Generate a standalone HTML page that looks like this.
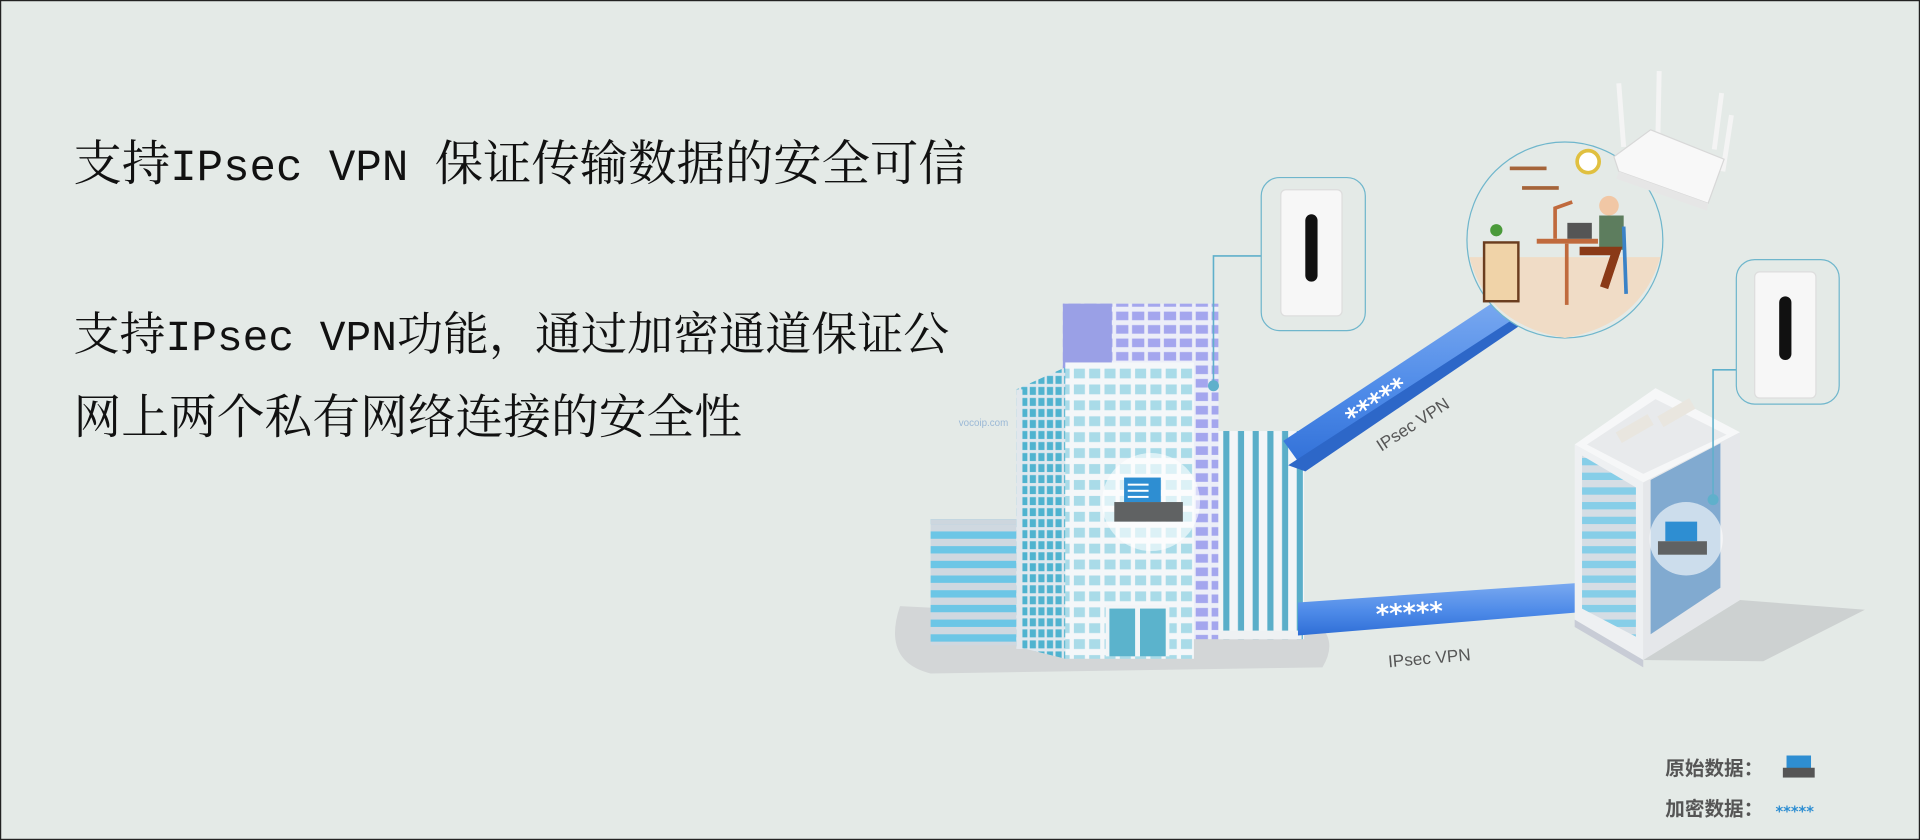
<!DOCTYPE html>
<html><head><meta charset="utf-8"><style>
html,body{margin:0;padding:0;background:#e4eae7;}
svg{display:block}
</style></head><body>
<svg width="1920" height="840" viewBox="0 0 1568 686" xmlns="http://www.w3.org/2000/svg">
<defs>
<pattern id="pw" x="0" y="0" width="12.5" height="13" patternUnits="userSpaceOnUse"><rect width="12.5" height="13" fill="#f4f7f9"/><rect x="2" y="2" width="9" height="8" fill="#a9dbe8"/></pattern>
<pattern id="pl" x="0" y="0" width="7" height="9" patternUnits="userSpaceOnUse"><rect width="7" height="9" fill="#dfe8ee"/><rect x="1" y="1" width="5" height="6.5" fill="#4fb3cf"/></pattern>
<pattern id="pp" x="0" y="0" width="13" height="11" patternUnits="userSpaceOnUse"><rect width="13" height="11" fill="#eceef8"/><rect x="1.5" y="1.5" width="10" height="7" fill="#a4a6ee"/></pattern>
<pattern id="ph" x="0" y="0" width="10" height="12" patternUnits="userSpaceOnUse"><rect width="10" height="12" fill="#cfd8e0"/><rect x="0" y="2" width="10" height="6" fill="#6cc6e6"/></pattern>
<pattern id="pv" x="0" y="0" width="12" height="10" patternUnits="userSpaceOnUse"><rect width="12" height="10" fill="#f3f5f7"/><rect x="3" y="0" width="5" height="10" fill="#5aaec9"/></pattern>
<linearGradient id="tg" x1="0" y1="0" x2="0" y2="1"><stop offset="0" stop-color="#7aa9f0"/><stop offset="0.55" stop-color="#4d8ae8"/><stop offset="1" stop-color="#2f6ed6"/></linearGradient>
</defs>
<rect x="0.5" y="0.5" width="1567" height="685" fill="#e4eae7" stroke="#222" stroke-width="1"/>

<g font-family="'Liberation Mono','Noto Serif CJK SC',serif" fill="#111">
<text x="60" y="147" font-size="36"><tspan font-size="39.5" font-family="'Noto Serif CJK SC',serif">支持</tspan>IPsec VPN <tspan font-size="39.5" font-family="'Noto Serif CJK SC',serif">保证传输数据的安全可信</tspan></text>
<text x="60" y="286" font-size="35"><tspan font-size="37.6" font-family="'Noto Serif CJK SC',serif">支持</tspan>IPsec VPN<tspan font-size="37.6" font-family="'Noto Serif CJK SC',serif">功能，通过加密通道保证公</tspan></text>
<text x="60" y="354" font-size="39" font-family="'Noto Serif CJK SC',serif">网上两个私有网络连接的安全性</text>
</g>

<!-- shadows -->
<path d="M735 495 Q720 540 760 550 L1080 545 Q1095 520 1070 505 L1000 500 L835 500 Z" fill="#d3d6d7"/>
<polygon points="1421,490 1523,498 1440,540 1342,539" fill="#cdd1d1"/>

<!-- left low building -->
<rect x="760" y="424" width="75" height="103" fill="url(#ph)"/>
<rect x="760" y="424" width="75" height="4" fill="#cdd6de"/>
<!-- purple back tower -->
<rect x="868" y="248" width="127" height="90" fill="url(#pp)"/>
<rect x="868" y="248" width="40" height="70" fill="#9aa0e6"/>
<rect x="955" y="300" width="40" height="222" fill="url(#pp)"/>
<!-- main tower left face -->
<polygon points="830,318 870,300 870,538 830,528" fill="url(#pl)"/>
<rect x="830" y="318" width="5" height="212" fill="#e2e7ec"/>
<!-- main tower front -->
<rect x="870" y="300" width="105" height="238" fill="url(#pw)"/>
<rect x="870" y="296" width="105" height="5" fill="#f4f7f9"/>
<!-- door -->
<rect x="903" y="494" width="52" height="42" fill="#f2f5f7"/>
<rect x="906" y="497" width="21" height="39" fill="#5bb3cc"/>
<rect x="931" y="497" width="21" height="39" fill="#5bb3cc"/>
<!-- printer circle -->
<circle cx="940" cy="410" r="40" fill="#ffffff" opacity="0.6"/>
<rect x="918" y="390" width="30" height="20" fill="#2e8ed2"/>
<rect x="921" y="395" width="17" height="1.6" fill="#fff"/><rect x="921" y="400" width="17" height="1.6" fill="#fff"/><rect x="921" y="405" width="17" height="1.6" fill="#fff"/>
<rect x="910" y="410" width="56" height="16" fill="#606263"/>
<!-- right striped building -->
<rect x="995" y="352" width="70" height="170" fill="url(#pv)"/>
<rect x="995" y="515" width="68" height="7" fill="#eef1f3"/>

<!-- router card left + connector -->
<polyline points="991,315 991,209 1031,209" fill="none" stroke="#5fb0cb" stroke-width="1.3"/>
<circle cx="991" cy="315" r="4.5" fill="#5fb0cb"/>
<rect x="1030" y="145" width="85" height="125" rx="15" fill="#e4eae7" stroke="#6fb6cc" stroke-width="1"/>
<rect x="1046" y="155" width="50" height="103" rx="4" fill="#f7f7f7" stroke="#ddd"/>
<rect x="1066" y="175" width="10" height="55" rx="5" fill="#111"/>

<!-- upper tube -->
<polygon points="1048,360 1224,244 1244,262 1066,385" fill="url(#tg)"/>
<polygon points="1052,380 1240,258 1244,264 1066,385" fill="#2d67c8"/>
<text x="0" y="0" transform="translate(1105,349) rotate(-33)" font-family="'DejaVu Sans',sans-serif" font-weight="bold" font-size="21" fill="#fff">*****</text>
<text x="0" y="0" transform="translate(1128,369) rotate(-33)" font-family="'Liberation Sans',sans-serif" font-size="14" fill="#555">IPsec VPN</text>

<!-- lower tube -->
<polygon points="1060,492 1290,476 1290,500 1060,519" fill="url(#tg)"/>
<text x="0" y="0" transform="translate(1124,509) rotate(-3)" font-family="'DejaVu Sans',sans-serif" font-weight="bold" font-size="21" fill="#fff">*****</text>
<text x="0" y="0" transform="translate(1134,545) rotate(-5)" font-family="'Liberation Sans',sans-serif" font-size="14" fill="#555">IPsec VPN</text>

<!-- right iso building -->
<polygon points="1286,363 1352,317 1421,353 1342,394" fill="#f6f7f8"/>
<polygon points="1296,363 1352,326 1410,355 1342,387" fill="#e8eaec"/>
<rect x="1320" y="345" width="30" height="10" fill="#e9e6df" transform="rotate(-30 1335 350)"/>
<rect x="1354" y="332" width="30" height="10" fill="#e9e6df" transform="rotate(-30 1369 337)"/>
<polygon points="1286,363 1342,394 1342,539 1286,506" fill="#eef0f2"/>
<polygon points="1292,372 1336,398 1336,520 1292,497" fill="url(#ph)" opacity="0.8"/>
<polygon points="1342,394 1421,353 1421,490 1342,539" fill="#e5e7ea"/>
<polygon points="1348,392 1405,362 1405,480 1348,518" fill="#5f95c7" opacity="0.75"/>
<circle cx="1377" cy="440" r="30" fill="#ffffff" opacity="0.6"/>
<rect x="1360" y="426" width="26" height="16" fill="#2e8ed2"/>
<rect x="1354" y="442" width="40" height="11" fill="#606263"/>
<polygon points="1286,506 1342,539 1342,545 1286,512" fill="#c8ccd6"/>

<!-- router card right -->
<polyline points="1418,302 1399,302 1399,408" fill="none" stroke="#5fb0cb" stroke-width="1.3"/>
<circle cx="1399" cy="408" r="4.5" fill="#5fb0cb"/>
<rect x="1418" y="212" width="84" height="118" rx="15" fill="#e4eae7" stroke="#6fb6cc" stroke-width="1"/>
<rect x="1433" y="222" width="50" height="103" rx="4" fill="#f7f7f7" stroke="#ddd"/>
<rect x="1453" y="242" width="10" height="52" rx="5" fill="#111"/>

<!-- home circle -->
<circle cx="1278" cy="196" r="80" fill="#e4eae7" stroke="#6fb6cc" stroke-width="1"/>
<path d="M1200 210 L1356 210 Q1340 265 1278 276 Q1214 265 1200 210 Z" fill="#f0dcc6"/>
<rect x="1212" y="198" width="28" height="48" fill="#f0d3a8" stroke="#6b3d1f" stroke-width="2"/>
<circle cx="1222" cy="188" r="5" fill="#4a9a3a"/>
<circle cx="1297" cy="132" r="9" fill="#fff" stroke="#e0c040" stroke-width="3"/>
<rect x="1233" y="136" width="30" height="3" fill="#a5643a"/><rect x="1243" y="152" width="30" height="3" fill="#a5643a"/>
<rect x="1255" y="195" width="50" height="4" fill="#c06a3d"/>
<rect x="1278" y="199" width="3" height="50" fill="#c06a3d"/>
<rect x="1280" y="182" width="20" height="13" fill="#555"/>
<path d="M1270 195 L1270 170 L1284 165" fill="none" stroke="#c06a3d" stroke-width="3"/>
<rect x="1306" y="176" width="20" height="28" fill="#5d7d5e"/>
<circle cx="1314" cy="168" r="8" fill="#f1c7a5"/>
<path d="M1290 205 L1320 205 L1310 235" fill="none" stroke="#8a3a17" stroke-width="7"/>
<path d="M1326 185 L1328 240" stroke="#3a82c7" stroke-width="3"/>

<!-- wifi router -->
<line x1="1326" y1="120" x2="1322" y2="68" stroke="#f4f4f4" stroke-width="4"/>
<line x1="1354" y1="110" x2="1355" y2="58" stroke="#f4f4f4" stroke-width="4"/>
<line x1="1400" y1="122" x2="1406" y2="76" stroke="#f4f4f4" stroke-width="4"/>
<line x1="1407" y1="140" x2="1414" y2="94" stroke="#f4f4f4" stroke-width="4"/>
<polygon points="1318,128 1348,106 1408,130 1395,166 1322,140" fill="#f8f8f8" stroke="#d8d8d8"/>
<polygon points="1322,140 1395,166 1394,172 1320,146" fill="#e6e6e6"/>

<text x="783" y="348" font-family="'Liberation Sans',sans-serif" font-size="8" fill="#9ab8d6">vocoip.com</text>

<!-- legend -->
<text x="1360" y="633" font-family="'Liberation Sans','Noto Sans CJK SC',sans-serif" font-size="16" font-weight="bold" fill="#555">原始数据：</text>
<rect x="1459" y="617" width="20" height="12" fill="#2e8ed2"/>
<rect x="1456" y="627" width="26" height="8" fill="#555"/>
<text x="1360" y="666" font-family="'Liberation Sans','Noto Sans CJK SC',sans-serif" font-size="16" font-weight="bold" fill="#555">加密数据：</text>
<text x="1450" y="667" font-family="'DejaVu Sans',sans-serif" font-size="12" font-weight="bold" fill="#2e8ed2">*****</text>
</svg>
</body></html>
